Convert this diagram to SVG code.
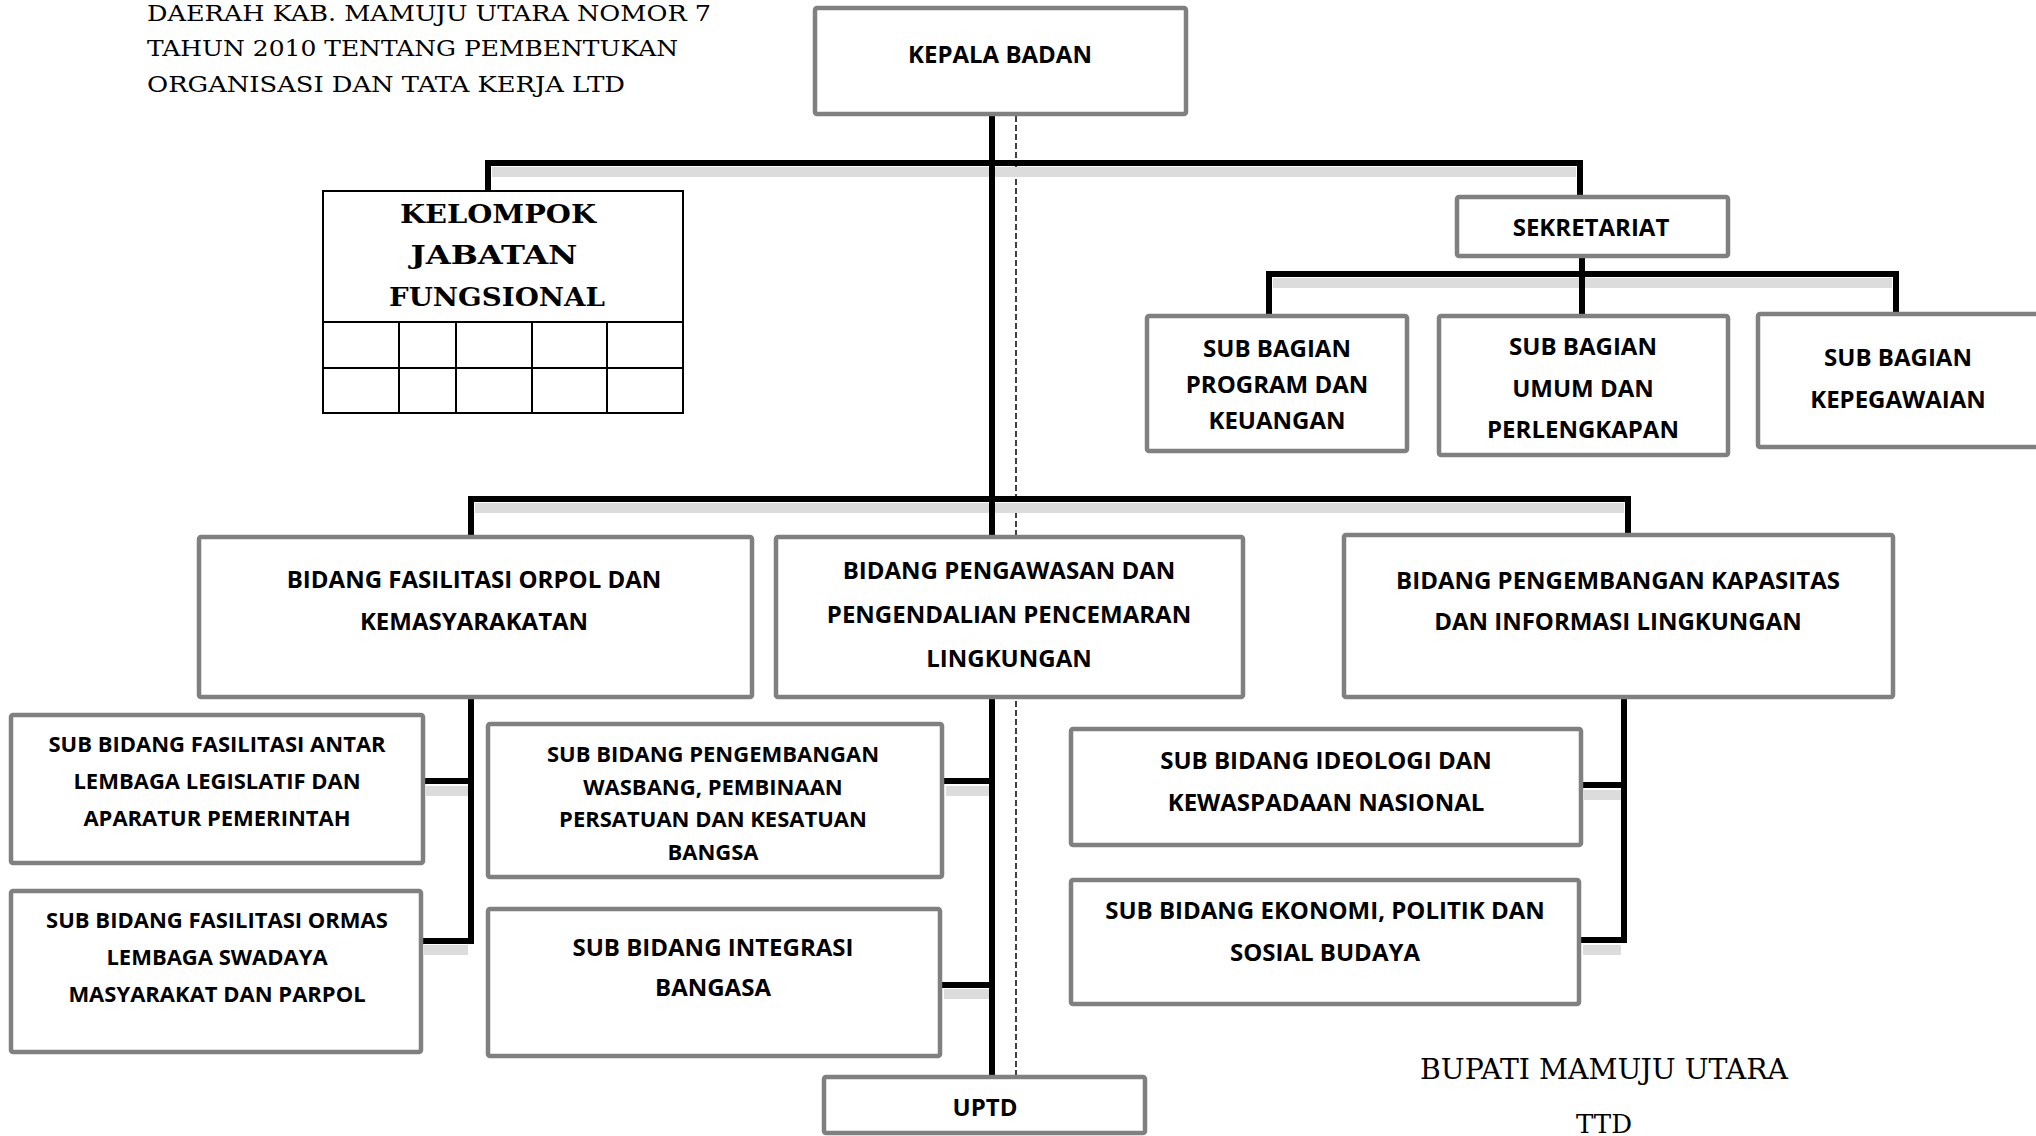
<svg xmlns="http://www.w3.org/2000/svg" width="2036" height="1136" viewBox="0 0 2036 1136">
<style>
.bg{fill:#ffffff}
.box{fill:#ffffff;stroke:#808080;stroke-width:4.5}
.kbox{fill:#ffffff;stroke:#000000;stroke-width:2}
.kl{stroke:#000000;stroke-width:2;fill:none}
.lbl{font-family:"Open Sans","Noto Sans",sans-serif;font-weight:700;font-size:24px;fill:#000;text-anchor:middle}
.sm{font-size:22px}
.serif{font-family:"DejaVu Serif","Liberation Serif",serif;fill:#000}
.kf{font-family:"DejaVu Serif","Liberation Serif",serif;font-weight:700;font-size:26px;fill:#000;text-anchor:middle}
.conn{stroke:#000000;stroke-width:6;fill:none;stroke-linecap:square}
.shadow{stroke:#dcdcdc;stroke-width:10;fill:none}
.dash{stroke:#000000;stroke-width:1.5;stroke-dasharray:6 3;fill:none}
</style>
<rect class="bg" x="0" y="0" width="2036" height="1136"/>

<g id="header-text">
<text class="serif" x="147" y="21" font-size="23" textLength="564" lengthAdjust="spacingAndGlyphs">DAERAH KAB. MAMUJU UTARA NOMOR 7</text>
<text class="serif" x="147" y="56" font-size="23" textLength="531" lengthAdjust="spacingAndGlyphs">TAHUN 2010 TENTANG PEMBENTUKAN</text>
<text class="serif" x="147" y="92" font-size="23" textLength="478" lengthAdjust="spacingAndGlyphs">ORGANISASI DAN TATA KERJA LTD</text>
</g>

<g id="connectors">
<line class="dash" x1="1016" y1="116" x2="1016" y2="1076"/>
<line class="shadow" x1="492" y1="172" x2="1576" y2="172"/>
<line class="shadow" x1="1273" y1="283" x2="1892" y2="283"/>
<line class="shadow" x1="475" y1="508" x2="1624" y2="508"/>
<line class="shadow" x1="426" y1="791" x2="468" y2="791"/>
<line class="shadow" x1="424" y1="950" x2="468" y2="950"/>
<line class="shadow" x1="946" y1="791" x2="989" y2="791"/>
<line class="shadow" x1="944" y1="994" x2="989" y2="994"/>
<line class="shadow" x1="1584" y1="795" x2="1621" y2="795"/>
<line class="shadow" x1="1583" y1="950" x2="1621" y2="950"/>
<line class="conn" x1="992" y1="116" x2="992" y2="534"/>
<path class="conn" d="M488,190 L488,163 L1580,163 L1580,194"/>
<line class="conn" x1="1582" y1="258" x2="1582" y2="313"/>
<path class="conn" d="M1269,313 L1269,274 L1896,274 L1896,311"/>
<path class="conn" d="M471,534 L471,499 L1628,499 L1628,532"/>
<path class="conn" d="M471,699 L471,941 L424,941"/>
<line class="conn" x1="426" y1="781" x2="471" y2="781"/>
<line class="conn" x1="992" y1="699" x2="992" y2="1074"/>
<line class="conn" x1="946" y1="781" x2="992" y2="781"/>
<line class="conn" x1="944" y1="985" x2="992" y2="985"/>
<path class="conn" d="M1624,699 L1624,940 L1583,940"/>
<line class="conn" x1="1584" y1="785" x2="1624" y2="785"/>
</g>

<g id="kepala-badan">
<rect class="box" x="815" y="8" width="371" height="106" rx="2"/>
<text class="lbl" x="1000" y="63">KEPALA BADAN</text>
</g>

<g id="kelompok-jabatan-fungsional">
<rect class="kbox" x="323" y="191" width="360" height="222"/>
<line class="kl" x1="323" y1="322" x2="683" y2="322"/>
<line class="kl" x1="323" y1="368" x2="683" y2="368"/>
<line class="kl" x1="399" y1="322" x2="399" y2="413"/>
<line class="kl" x1="456" y1="322" x2="456" y2="413"/>
<line class="kl" x1="532" y1="322" x2="532" y2="413"/>
<line class="kl" x1="607" y1="322" x2="607" y2="413"/>
<text class="kf" x="498" y="223" textLength="196" lengthAdjust="spacingAndGlyphs">KELOMPOK</text>
<text class="kf" x="494" y="264" textLength="167" lengthAdjust="spacingAndGlyphs">JABATAN</text>
<text class="kf" x="497" y="306" textLength="216" lengthAdjust="spacingAndGlyphs">FUNGSIONAL</text>
</g>

<g id="sekretariat">
<rect class="box" x="1457" y="197" width="271" height="59" rx="2"/>
<text class="lbl" x="1591" y="236">SEKRETARIAT</text>
</g>

<g id="sub-bagian-program">
<rect class="box" x="1147" y="316" width="260" height="135" rx="2"/>
<text class="lbl" x="1277" y="357">SUB BAGIAN</text>
<text class="lbl" x="1277" y="393">PROGRAM DAN</text>
<text class="lbl" x="1277" y="429">KEUANGAN</text>
</g>

<g id="sub-bagian-umum">
<rect class="box" x="1439" y="316" width="289" height="139" rx="2"/>
<text class="lbl" x="1583" y="355">SUB BAGIAN</text>
<text class="lbl" x="1583" y="397">UMUM DAN</text>
<text class="lbl" x="1583" y="438">PERLENGKAPAN</text>
</g>

<g id="sub-bagian-kepegawaian">
<rect class="box" x="1758" y="314" width="290" height="133" rx="2"/>
<text class="lbl" x="1898" y="366">SUB BAGIAN</text>
<text class="lbl" x="1898" y="408">KEPEGAWAIAN</text>
</g>

<g id="bidang-fasilitasi">
<rect class="box" x="199" y="537" width="553" height="160" rx="2"/>
<text class="lbl" x="474" y="588">BIDANG FASILITASI ORPOL DAN</text>
<text class="lbl" x="474" y="630">KEMASYARAKATAN</text>
</g>

<g id="bidang-pengawasan">
<rect class="box" x="776" y="537" width="467" height="160" rx="2"/>
<text class="lbl" x="1009" y="579">BIDANG PENGAWASAN DAN</text>
<text class="lbl" x="1009" y="623">PENGENDALIAN PENCEMARAN</text>
<text class="lbl" x="1009" y="667">LINGKUNGAN</text>
</g>

<g id="bidang-pengembangan">
<rect class="box" x="1344" y="535" width="549" height="162" rx="2"/>
<text class="lbl" x="1618" y="589">BIDANG PENGEMBANGAN KAPASITAS</text>
<text class="lbl" x="1618" y="630">DAN INFORMASI LINGKUNGAN</text>
</g>

<g id="sub-bidang-antar-lembaga">
<rect class="box" x="11" y="715" width="412" height="148" rx="2"/>
<text class="lbl sm" x="217" y="752">SUB BIDANG FASILITASI ANTAR</text>
<text class="lbl sm" x="217" y="789">LEMBAGA LEGISLATIF DAN</text>
<text class="lbl sm" x="217" y="826">APARATUR PEMERINTAH</text>
</g>

<g id="sub-bidang-ormas">
<rect class="box" x="11" y="891" width="410" height="161" rx="2"/>
<text class="lbl sm" x="217" y="928">SUB BIDANG FASILITASI ORMAS</text>
<text class="lbl sm" x="217" y="965">LEMBAGA SWADAYA</text>
<text class="lbl sm" x="217" y="1002">MASYARAKAT DAN PARPOL</text>
</g>

<g id="sub-bidang-wasbang">
<rect class="box" x="488" y="724" width="454" height="153" rx="2"/>
<text class="lbl sm" x="713" y="762">SUB BIDANG PENGEMBANGAN</text>
<text class="lbl sm" x="713" y="795">WASBANG, PEMBINAAN</text>
<text class="lbl sm" x="713" y="827">PERSATUAN DAN KESATUAN</text>
<text class="lbl sm" x="713" y="860">BANGSA</text>
</g>

<g id="sub-bidang-integrasi">
<rect class="box" x="488" y="909" width="452" height="147" rx="2"/>
<text class="lbl" x="713" y="956">SUB BIDANG INTEGRASI</text>
<text class="lbl" x="713" y="996">BANGASA</text>
</g>

<g id="sub-bidang-ideologi">
<rect class="box" x="1071" y="729" width="510" height="116" rx="2"/>
<text class="lbl" x="1326" y="769">SUB BIDANG IDEOLOGI DAN</text>
<text class="lbl" x="1326" y="811">KEWASPADAAN NASIONAL</text>
</g>

<g id="sub-bidang-ekonomi">
<rect class="box" x="1071" y="880" width="508" height="124" rx="2"/>
<text class="lbl" x="1325" y="919">SUB BIDANG EKONOMI, POLITIK DAN</text>
<text class="lbl" x="1325" y="961">SOSIAL BUDAYA</text>
</g>

<g id="uptd">
<rect class="box" x="824" y="1077" width="321" height="56" rx="2"/>
<text class="lbl" x="985" y="1116">UPTD</text>
</g>

<g id="signature">
<text class="serif" x="1420" y="1079" font-size="27" textLength="368" lengthAdjust="spacingAndGlyphs">BUPATI MAMUJU UTARA</text>
<text class="serif" x="1604" y="1133" font-size="26" text-anchor="middle">TTD</text>
</g>
</svg>
